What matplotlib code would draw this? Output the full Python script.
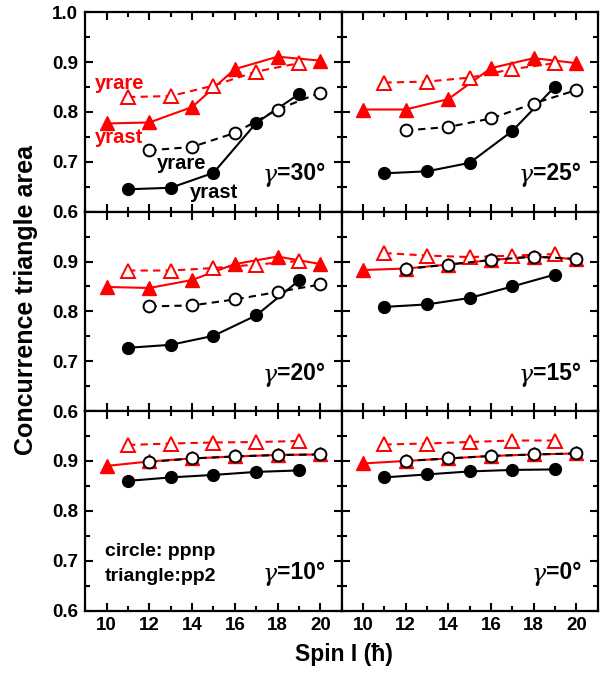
import matplotlib
matplotlib.use("Agg")
import matplotlib.pyplot as plt
from matplotlib.ticker import MultipleLocator

plt.rcParams['font.family'] = ['Liberation Sans', 'DejaVu Sans']
plt.rcParams['font.weight'] = 'bold'

# spins
spin_pp2_yrast = [10, 12, 14, 16, 18, 20]
spin_pp2_yrare = [11, 13, 15, 17, 19]
spin_ppnp_yrast = [11, 13, 15, 17, 19]
spin_ppnp_yrare = [12, 14, 16, 18, 20]

gammas = [30, 25, 20, 15, 10, 0]

pp2_yrast = {
    30: [0.777, 0.779, 0.810, 0.886, 0.911, 0.903],
    25: [0.805, 0.805, 0.826, 0.888, 0.908, 0.898],
    20: [0.849, 0.847, 0.863, 0.895, 0.910, 0.895],
    15: [0.883, 0.886, 0.894, 0.903, 0.910, 0.905],
    10: [0.890, 0.899, 0.905, 0.909, 0.912, 0.913],
    0:  [0.895, 0.900, 0.905, 0.910, 0.913, 0.915],
}
pp2_yrare = {
    30: [0.830, 0.832, 0.853, 0.881, 0.898],
    25: [0.859, 0.861, 0.869, 0.886, 0.898],
    20: [0.882, 0.882, 0.887, 0.894, 0.901],
    15: [0.917, 0.912, 0.909, 0.912, 0.915],
    10: [0.932, 0.935, 0.937, 0.938, 0.940],
    0:  [0.933, 0.935, 0.938, 0.941, 0.941],
}
ppnp_yrast = {
    30: [0.645, 0.648, 0.678, 0.778, 0.836],
    25: [0.677, 0.681, 0.698, 0.762, 0.851],
    20: [0.727, 0.733, 0.751, 0.792, 0.862],
    15: [0.809, 0.814, 0.827, 0.850, 0.874],
    10: [0.860, 0.867, 0.872, 0.878, 0.881],
    0:  [0.867, 0.873, 0.879, 0.882, 0.883],
}
ppnp_yrare = {
    30: [0.723, 0.730, 0.758, 0.805, 0.839],
    25: [0.763, 0.770, 0.787, 0.817, 0.844],
    20: [0.810, 0.812, 0.824, 0.839, 0.854],
    15: [0.885, 0.894, 0.903, 0.910, 0.905],
    10: [0.898, 0.905, 0.909, 0.912, 0.913],
    0:  [0.900, 0.905, 0.910, 0.913, 0.915],
}

W, H = 613, 675
fig = plt.figure(figsize=(W / 100, H / 100), dpi=100)

left_px, mid_px, right_px = 85.3, 341.7, 597.7
top_px, row_h = 12.3, 199.4

RED = '#ff0000'
for i, g in enumerate(gammas):
    row, col = divmod(i, 2)
    x0 = left_px if col == 0 else mid_px
    x1 = mid_px if col == 0 else right_px
    y_top = top_px + row * row_h
    ax = fig.add_axes([x0 / W, 1 - (y_top + row_h) / H, (x1 - x0) / W, row_h / H])

    ax.plot(spin_pp2_yrast, pp2_yrast[g], '-', color=RED, lw=1.5,
            marker='^', ms=9.5, mfc=RED, mec=RED, zorder=2)
    ax.plot(spin_pp2_yrare, pp2_yrare[g], '--', color=RED, lw=1.5, dashes=(3.5, 2.5),
            marker='^', ms=9.5, mfc='white', mec=RED, mew=1.4, zorder=3)
    ax.plot(spin_ppnp_yrast, ppnp_yrast[g], '-', color='black', lw=1.5,
            marker='o', ms=8.5, mfc='black', mec='black', zorder=4)
    ax.plot(spin_ppnp_yrare, ppnp_yrare[g], '--', color='black', lw=1.5, dashes=(3.5, 2.5),
            marker='o', ms=8.5, mfc='white', mec='black', mew=1.4, zorder=5)

    ax.set_xlim(9, 21)
    ax.set_ylim(0.6, 1.0)
    ax.xaxis.set_major_locator(MultipleLocator(2))
    ax.xaxis.set_minor_locator(MultipleLocator(1))
    ax.yaxis.set_major_locator(MultipleLocator(0.1))
    ax.yaxis.set_minor_locator(MultipleLocator(0.05))
    ax.tick_params(which='both', direction='in', top=True, right=True, width=1.5,
                   labelsize=13.5, pad=5)
    ax.tick_params(which='major', length=6)
    ax.tick_params(which='minor', length=3.5)
    for s in ax.spines.values():
        s.set_linewidth(1.6)
    if col == 1:
        ax.tick_params(labelleft=False)
    else:
        ax.set_yticks([0.6, 0.7, 0.8, 0.9] + ([1.0] if row == 0 else []))
        ax.set_yticks([0.65, 0.75, 0.85, 0.95], minor=True)
    if row < 2:
        ax.tick_params(labelbottom=False)
    for lab in ax.get_xticklabels() + ax.get_yticklabels():
        lab.set_fontweight('bold')

    t = ax.text(0.935, 0.19, '=%d\u00b0' % g, transform=ax.transAxes,
                ha='right', va='center', fontsize=16.5, fontweight='bold')
    ax.annotate('\u03b3', xy=(0, 0.42), xycoords=t, ha='right', va='center',
                fontsize=17, fontweight='normal', family=['DejaVu Serif'],
                fontstyle='italic')

    if g == 30:
        ax.text(9.45, 0.858, 'yrare', color=RED, fontsize=14.5, fontweight='bold', va='center')
        ax.text(9.45, 0.748, 'yrast', color=RED, fontsize=14.5, fontweight='bold', va='center')
        ax.text(12.35, 0.696, 'yrare', color='black', fontsize=14.5, fontweight='bold', va='center')
        ax.text(13.9, 0.638, 'yrast', color='black', fontsize=14.5, fontweight='bold', va='center')
    if g == 10:
        ax.text(0.077, 0.295, 'circle: ppnp', transform=ax.transAxes,
                fontsize=14, fontweight='bold', va='center')
        ax.text(0.077, 0.17, 'triangle:pp2', transform=ax.transAxes,
                fontsize=14, fontweight='bold', va='center')

fig.text(344 / W, 1 - 655 / H, 'Spin I (\u0127)', ha='center', va='center',
         fontsize=16.5, fontweight='bold')
fig.text(26 / W, 1 - 300 / H, 'Concurrence triangle area', ha='center', va='center',
         rotation=90, fontsize=18, fontweight='bold')

fig.savefig('out.png', dpi=100)
